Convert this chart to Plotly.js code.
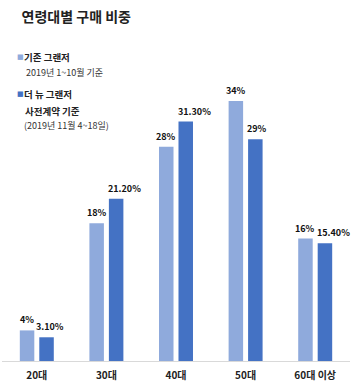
<!DOCTYPE html>
<html>
<head>
<meta charset="utf-8">
<script src="https://cdn.plot.ly/plotly-3.0.1.min.js"></script>
<style>
html,body{margin:0;padding:0;background:#fff;}
#chart{width:355px;height:388px;}
</style>
</head>
<body>
<div id="chart"></div>
<script>
const categories = ["20대", "30대", "40대", "50대", "60대 이상"];
const seriesNames = ["기존 그랜저", "더 뉴 그랜저"];
const seriesNotes = [["2019년 1~10월 기준"], ["사전계약 기준", "(2019년 11월 4~18일)"]];
const oldValues = [4, 18, 28, 34, 16];
const oldLabels = ["4%", "18%", "28%", "34%", "16%"];
const newValues = [3.1, 21.2, 31.3, 29, 15.4];
const newLabels = ["3.10%", "21.20%", "31.30%", "29%", "15.40%"];
const colors = ["#8faadc", "#4472c4"];
const title = "연령대별 구매 비중";

const FONT = "'Malgun Gothic', 'Noto Sans CJK KR', sans-serif";
const LABEL_SIZE = 9;

const BARGAP = 0.44, GROUPGAP = 0.256;
const traces = [
  {type: "bar", x: categories, y: oldValues, name: seriesNames[0],
   marker: {color: colors[0]}, hoverinfo: "none"},
  {type: "bar", x: categories, y: newValues, name: seriesNames[1],
   marker: {color: colors[1]}, hoverinfo: "none"}
];

const annotations = [];
function addText(txt, x, y, size, bold, color) {
  annotations.push({xref: "paper", yref: "paper", x: x, y: y, xanchor: "left", yanchor: "middle",
    showarrow: false, text: bold ? "<b>" + txt + "</b>" : txt,
    font: {family: FONT, size: size, color: color || "#222"}});
}
// plot area x from 2 to 350, y from 80 to 361 (px)
const L = 2, W = 348, T = 80, H = 281;
const px = v => (v - L) / W;
const py = v => (T + H - v) / H;

// value labels above bars (positioned by the axes; dark label nudged right only if it would collide)
const ctx = document.createElement("canvas").getContext("2d");
ctx.font = "bold " + LABEL_SIZE + "px 'Noto Sans CJK KR'";
const slot = (1 - BARGAP) / 2;
const pxPerCat = W / categories.length;
const centerGapPx = slot * pxPerCat;
categories.forEach((c, i) => {
  const wL = ctx.measureText(oldLabels[i]).width;
  const wD = ctx.measureText(newLabels[i]).width;
  const need = wL / 2 + wD / 2 + 2 - centerGapPx;
  const shift = need > 0 ? need : 0;
  [[oldValues, oldLabels, -slot / 2, 0], [newValues, newLabels, slot / 2, shift]].forEach(s => {
    annotations.push({xref: "x", yref: "y", x: i + s[2], y: s[0][i], xanchor: "center", yanchor: "bottom",
      yshift: 2, xshift: s[3], showarrow: false, text: "<b>" + s[1][i] + "</b>",
      font: {family: FONT, size: LABEL_SIZE, color: "#111"}});
  });
});

// legend
const legendY = [57, 94];
seriesNames.forEach((n, i) => {
  annotations.push({xref: "paper", yref: "paper", x: px(15), y: py(legendY[i]), xanchor: "left", yanchor: "middle",
    showarrow: false, text: "■", font: {family: "DejaVu Sans", size: 7, color: colors[i]}});
  addText(n, px(22), py(legendY[i]), 9.5, true, "#222");
});
addText(seriesNotes[0][0], px(24), py(73), 9, false, "#333");
addText(seriesNotes[1][0], px(23), py(111), 9.5, true, "#222");
addText(seriesNotes[1][1], px(22), py(125), 9, false, "#333");

const layout = {
  width: 355, height: 388,
  margin: {l: L, r: 355 - L - W, t: T, b: 388 - T - H, pad: 0},
  paper_bgcolor: "#fff", plot_bgcolor: "#fff",
  title: {text: "<b>" + title + "</b>", x: 20 / 355, xanchor: "left", xref: "paper",
          y: 1 - 17 / 388, yanchor: "middle", yref: "container",
          font: {family: FONT, size: 14, color: "#222"}},
  showlegend: false,
  barmode: "group", bargap: BARGAP, bargroupgap: GROUPGAP,
  xaxis: {type: "category", showline: true, linecolor: "#d9d9d9", linewidth: 1,
          ticks: "", showgrid: false, zeroline: false, ticklabelstandoff: 5,
          tickfont: {family: FONT, size: 10, color: "#222"}, fixedrange: true,
          range: [-0.5, categories.length - 0.5]},
  yaxis: {range: [0, 36.73], visible: false, showgrid: false, zeroline: false, fixedrange: true},
  annotations: annotations,
  font: {family: FONT}
};
layout.xaxis.tickvals = categories;
layout.xaxis.ticktext = categories.map(c => "<b>" + c + "</b>");

Plotly.newPlot("chart", traces, layout, {displayModeBar: false, staticPlot: true});
</script>
</body>
</html>
